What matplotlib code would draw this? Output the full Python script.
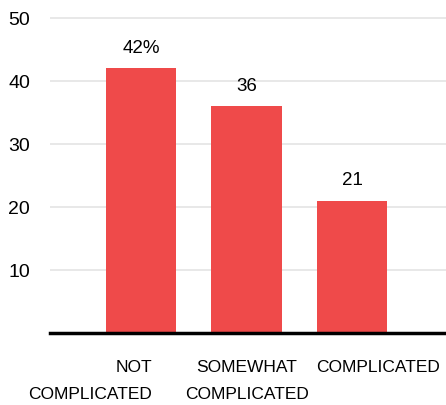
import matplotlib
matplotlib.use("Agg")
import matplotlib.pyplot as plt

categories = ["NOT\nCOMPLICATED", "SOMEWHAT\nCOMPLICATED", "COMPLICATED"]
values = [42, 36, 21]
value_labels = ["42%", "36", "21"]
yticks = [10, 20, 30, 40, 50]

plt.rcParams["font.family"] = ["Liberation Sans", "DejaVu Sans"]

BAR = "#EF4A4A"
FS = 12.5
fig = plt.figure(figsize=(4.46, 4.05), dpi=100)
ax = fig.add_axes([50 / 446, 1 - 333 / 405, 396 / 446, 333 / 405])

x = list(range(len(values)))
ax.bar(x, values, width=0.667, color=BAR, zorder=2)
ax.set_xlim(-0.863, 2.89)
ax.set_ylim(0, 52.86)

for v in yticks:
    ax.axhline(v, color="#e4e4e4", lw=1.2, zorder=1)
ax.axhline(0, color="black", lw=2.5, zorder=3, clip_on=False)

ax.set_yticks(yticks)
ax.set_yticklabels([str(t) for t in yticks], fontsize=FS + 1.5)
ax.tick_params(axis="y", length=0, pad=14.4)
ax.set_xticks([])
for s in ax.spines.values():
    s.set_visible(False)

for xi, v, lab in zip(x, values, value_labels):
    ax.annotate(lab, (xi, v), xytext=(0, 11), textcoords="offset points",
                ha="center", va="baseline", fontsize=FS + 1)

# category labels placed beneath the baseline
label_pos = [(0.104, "right"), (1.0, "center"), (2.25, "center")]
for (lx, ha), cat in zip(label_pos, categories):
    ax.text(lx, -4.3, cat, ha=ha, va="top", fontsize=FS, linespacing=2.0,
            multialignment="right" if ha == "right" else "center")

fig.savefig("out.png", dpi=100)
